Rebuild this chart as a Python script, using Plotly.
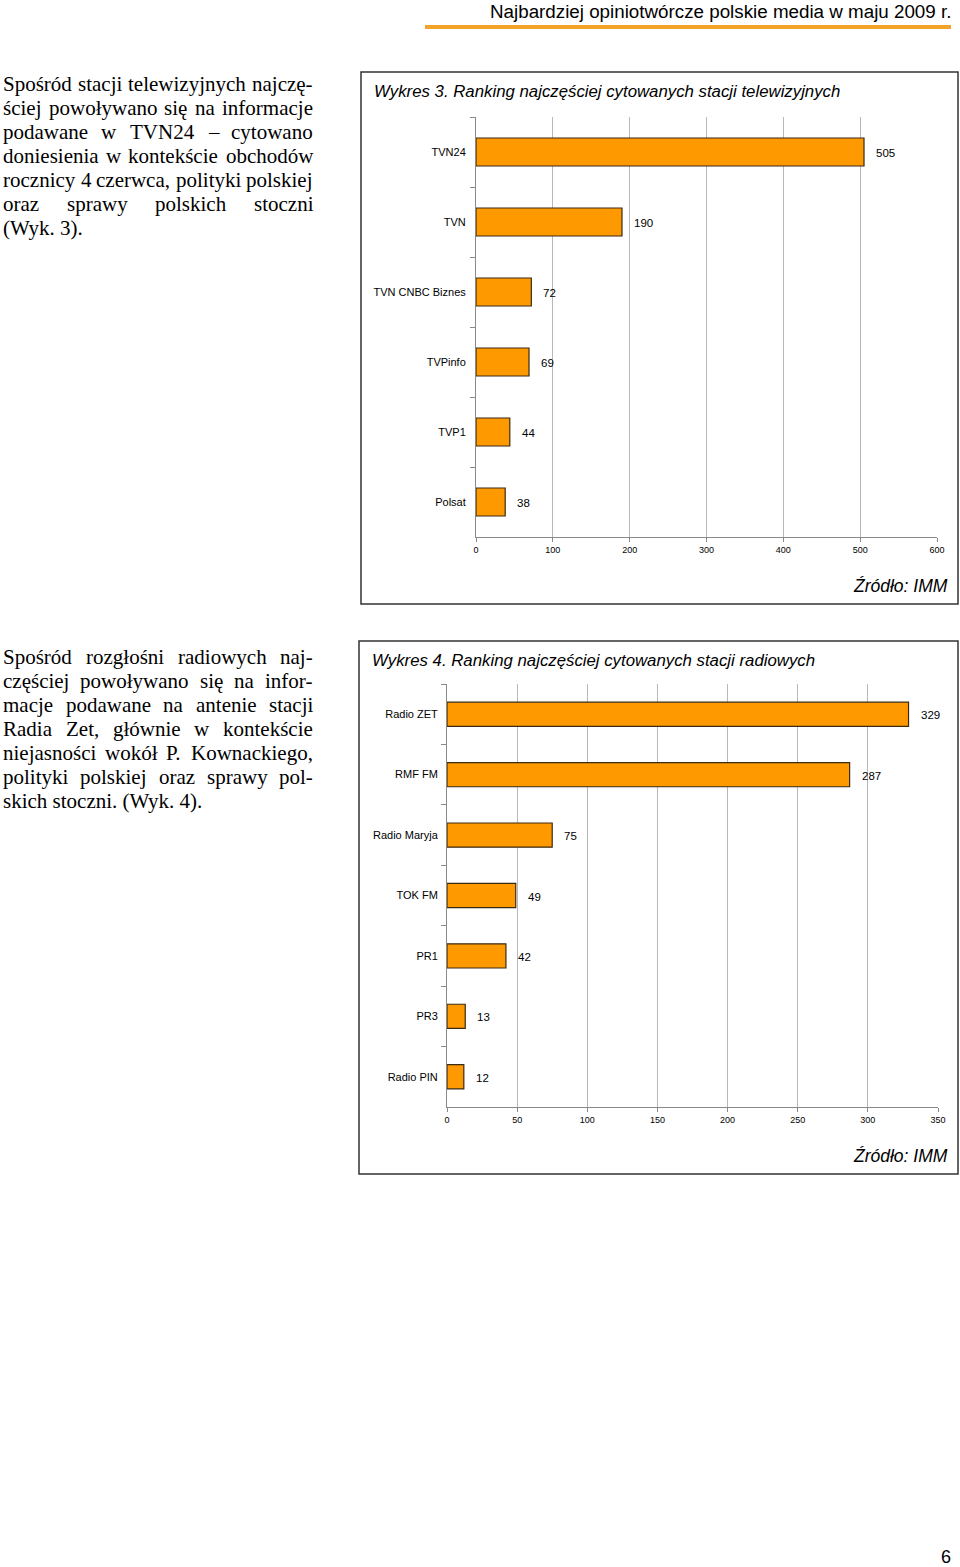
import plotly.graph_objects as go

# ---------------- data ----------------
tv_stations = ["TVN24", "TVN", "TVN CNBC Biznes", "TVPinfo", "TVP1", "Polsat"]
tv_values = [505, 190, 72, 69, 44, 38]
tv_ticks = [0, 100, 200, 300, 400, 500, 600]

radio_stations = ["Radio ZET", "RMF FM", "Radio Maryja", "TOK FM", "PR1", "PR3", "Radio PIN"]
radio_values = [329, 287, 75, 49, 42, 13, 12]
radio_ticks = [0, 50, 100, 150, 200, 250, 300, 350]

header_text = "Najbardziej opiniotwórcze polskie media w maju 2009 r."
title_tv = "Wykres 3. Ranking najczęściej cytowanych stacji telewizyjnych"
title_radio = "Wykres 4. Ranking najczęściej cytowanych stacji radiowych"
source_text = "Źródło: IMM"
page_number = "6"

para_tv = [
    "Spośród stacji telewizyjnych najczę-",
    "ściej powoływano się na informacje",
    "podawane w TVN24 – cytowano",
    "doniesienia w kontekście obchodów",
    "rocznicy 4 czerwca, polityki polskiej",
    "oraz sprawy polskich stoczni",
    "(Wyk. 3).",
]
para_radio = [
    "Spośród rozgłośni radiowych naj-",
    "częściej powoływano się na infor-",
    "macje podawane na antenie stacji",
    "Radia Zet, głównie w kontekście",
    "niejasności wokół P. Kownackiego,",
    "polityki polskiej oraz sprawy pol-",
    "skich stoczni. (Wyk. 4).",
]

# ---------------- page geometry ----------------
W, H = 960, 1567


def px(x):
    return x / W


def py(y):
    return 1 - y / H


BAR_COLOR = "#FF9900"
BAR_LINE = "#3b2a12"
GRID = "#b8b8b8"
AXIS = "#8a8a8a"
SANS = "Liberation Sans, Arial, sans-serif"
SERIF = "Liberation Serif, Times New Roman, serif"

fig = go.Figure()

fig.add_trace(go.Bar(
    x=tv_values, y=tv_stations, orientation="h", xaxis="x", yaxis="y",
    width=0.4, marker=dict(color=BAR_COLOR, line=dict(color=BAR_LINE, width=1.2)),
    hoverinfo="skip", showlegend=False,
))
fig.add_trace(go.Bar(
    x=radio_values, y=radio_stations, orientation="h", xaxis="x2", yaxis="y2",
    width=0.4, marker=dict(color=BAR_COLOR, line=dict(color=BAR_LINE, width=1.2)),
    hoverinfo="skip", showlegend=False,
))


def xaxis_cfg(domain, anchor, ticks):
    return dict(
        domain=domain, anchor=anchor, range=[ticks[0], ticks[-1]],
        tickvals=ticks, ticktext=[str(t) for t in ticks],
        showgrid=True, gridcolor=GRID, gridwidth=1, zeroline=False,
        showline=True, linecolor=AXIS, linewidth=1,
        ticks="outside", ticklen=4, tickcolor=AXIS,
        tickfont=dict(family=SANS, size=9, color="#000"),
        fixedrange=True, automargin=False,
    )


def yaxis_cfg(domain, anchor, cats, standoff):
    return dict(
        domain=domain, anchor=anchor, type="category",
        categoryorder="array", categoryarray=cats,
        range=[len(cats) - 0.5, -0.5],
        showgrid=False, zeroline=False,
        showline=True, linecolor=AXIS, linewidth=1,
        ticks="outside", tickson="boundaries", ticklen=5, tickcolor=AXIS,
        ticklabelstandoff=standoff,
        tickfont=dict(family=SANS, size=11, color="#000"),
        fixedrange=True, automargin=False,
    )


annotations = []
shapes = []

# value labels
for cats, vals, xr, yr in [(tv_stations, tv_values, "x", "y"),
                           (radio_stations, radio_values, "x2", "y2")]:
    for c, v in zip(cats, vals):
        annotations.append(dict(
            x=v, y=c, xref=xr, yref=yr, text=str(v), showarrow=False,
            xanchor="left", yanchor="middle", xshift=10, yshift=-1,
            font=dict(family=SANS, size=11.5, color="#000"),
        ))

# chart boxes
shapes.append(dict(type="rect", xref="paper", yref="paper",
                   x0=px(361), x1=px(958), y0=py(604), y1=py(72),
                   line=dict(color="#333", width=1.5), fillcolor="rgba(0,0,0,0)"))
shapes.append(dict(type="rect", xref="paper", yref="paper",
                   x0=px(359), x1=px(958), y0=py(1174), y1=py(641),
                   line=dict(color="#333", width=1.5), fillcolor="rgba(0,0,0,0)"))

# header line
shapes.append(dict(type="line", xref="paper", yref="paper",
                   x0=px(425), x1=px(951), y0=py(27), y1=py(27),
                   line=dict(color="#F3A22A", width=4)))

# titles & source
annotations += [
    dict(x=px(953), y=py(11), xref="paper", yref="paper", text=header_text,
         showarrow=False, xanchor="right", yanchor="middle",
         font=dict(family=SANS, size=18.8, color="#000")),
    dict(x=px(372), y=py(91), xref="paper", yref="paper", text=f"<i>{title_tv}</i>",
         showarrow=False, xanchor="left", yanchor="middle",
         font=dict(family=SANS, size=16.8, color="#000")),
    dict(x=px(370), y=py(660), xref="paper", yref="paper", text=f"<i>{title_radio}</i>",
         showarrow=False, xanchor="left", yanchor="middle",
         font=dict(family=SANS, size=16.8, color="#000")),
    dict(x=px(950), y=py(586), xref="paper", yref="paper", text=f"<i>{source_text}</i>",
         showarrow=False, xanchor="right", yanchor="middle",
         font=dict(family=SANS, size=17.5, color="#000")),
    dict(x=px(950), y=py(1156), xref="paper", yref="paper", text=f"<i>{source_text}</i>",
         showarrow=False, xanchor="right", yanchor="middle",
         font=dict(family=SANS, size=17.5, color="#000")),
    dict(x=px(953), y=py(1557), xref="paper", yref="paper", text=page_number,
         showarrow=False, xanchor="right", yanchor="middle",
         font=dict(family=SANS, size=18, color="#000")),
]

# ---------------- justified body text ----------------
TIMES = {
    'a': 444, 'b': 500, 'c': 444, 'd': 500, 'e': 444, 'f': 333, 'g': 500, 'h': 500,
    'i': 278, 'j': 278, 'k': 500, 'l': 278, 'm': 778, 'n': 500, 'o': 500, 'p': 500,
    'q': 500, 'r': 333, 's': 389, 't': 278, 'u': 500, 'v': 500, 'w': 722, 'x': 500,
    'y': 500, 'z': 444,
    'A': 722, 'B': 667, 'C': 667, 'D': 722, 'E': 611, 'F': 556, 'G': 722, 'H': 722,
    'I': 333, 'J': 389, 'K': 722, 'L': 611, 'M': 889, 'N': 722, 'O': 722, 'P': 556,
    'Q': 722, 'R': 667, 'S': 556, 'T': 611, 'U': 722, 'V': 722, 'W': 944, 'X': 722,
    'Y': 722, 'Z': 611,
    'ś': 389, 'ó': 500, 'ę': 444, 'ł': 278, 'ą': 444, 'ż': 444, 'ź': 444, 'ć': 444,
    'ń': 500, 'Ś': 556,
    '.': 250, ',': 250, '-': 333, '(': 333, ')': 333, '–': 500, ' ': 250,
}
BODY_SIZE = 21
PAD = 2          # annotation inner padding
LEFT, RIGHT = 3, 313
LINE_H = 24


def word_w(w):
    return sum(TIMES.get(ch, 500) for ch in w) * BODY_SIZE / 1000.0


def add_paragraph(lines, y0):
    for i, line in enumerate(lines):
        y = y0 + i * LINE_H
        words = line.split(" ")
        last = (i == len(lines) - 1)
        if last or len(words) == 1:
            annotations.append(dict(
                x=px(LEFT - PAD), y=py(y), xref="paper", yref="paper", text=line,
                showarrow=False, xanchor="left", yanchor="middle",
                font=dict(family=SERIF, size=BODY_SIZE, color="#000")))
            continue
        widths = [word_w(w) for w in words]
        gap = max((RIGHT - LEFT - sum(widths)) / (len(words) - 1), 3)
        xcur = LEFT
        for w, ww in zip(words, widths):
            annotations.append(dict(
                x=px(xcur - PAD), y=py(y), xref="paper", yref="paper", text=w,
                showarrow=False, xanchor="left", yanchor="middle",
                font=dict(family=SERIF, size=BODY_SIZE, color="#000")))
            xcur += ww + gap


add_paragraph(para_tv, 84)
add_paragraph(para_radio, 657)

fig.update_layout(
    width=W, height=H, autosize=False,
    margin=dict(l=0, r=0, t=0, b=0, pad=0, autoexpand=False),
    paper_bgcolor="white", plot_bgcolor="white",
    xaxis=xaxis_cfg([px(476), px(937)], "y", tv_ticks),
    yaxis=yaxis_cfg([py(537), py(117)], "x", tv_stations, 7),
    xaxis2=xaxis_cfg([px(447), px(938)], "y2", radio_ticks),
    yaxis2=yaxis_cfg([py(1107), py(684)], "x2", radio_stations, 6),
    annotations=annotations, shapes=shapes, showlegend=False,
    hovermode=False,
)

post = (
    "document.documentElement.style.margin='0';"
    "document.documentElement.style.overflow='hidden';"
    "document.body.style.margin='0';"
    "document.body.style.overflow='hidden';"
)

fig.write_html(
    "out.html",
    config={"displayModeBar": False, "responsive": False},
    post_script=post,
)
